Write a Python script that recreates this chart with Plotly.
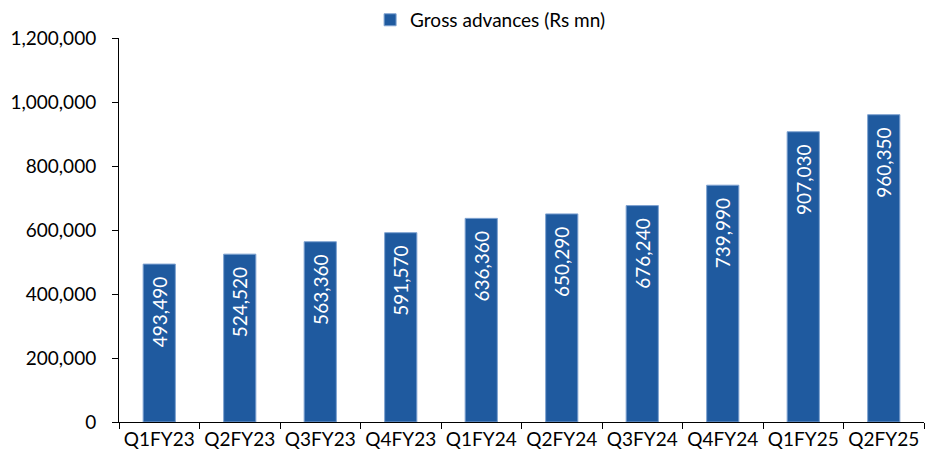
import plotly.graph_objects as go

categories = ["Q1FY23", "Q2FY23", "Q3FY23", "Q4FY23", "Q1FY24", "Q2FY24",
              "Q3FY24", "Q4FY24", "Q1FY25", "Q2FY25"]
gross_advances = [493490, 524520, 563360, 591570, 636360, 650290,
                  676240, 739990, 907030, 960350]
y_ticks = [0, 200000, 400000, 600000, 800000, 1000000, 1200000]
y_tick_labels = ["0", "200,000", "400,000", "600,000", "800,000", "1,000,000", "1,200,000"]

FONT = "Lato"
BAR = "#1F5A9F"

fig = go.Figure()
fig.add_trace(go.Bar(
    x=categories,
    y=gross_advances,
    name="Gross advances (Rs mn)",
    marker=dict(color=BAR, line=dict(color="#7FA3D1", width=1)),
    text=[f"{v:,}\u00a0\u00a0" for v in gross_advances],
    textposition="inside",
    insidetextanchor="end",
    textangle=-90,
    insidetextfont=dict(family=FONT, size=19, color="white"),
    cliponaxis=False,
))

fig.update_layout(
    width=930, height=463,
    margin=dict(l=119, r=6, t=38, b=41, autoexpand=False),
    plot_bgcolor="white", paper_bgcolor="white",
    bargap=0.6,
    font=dict(family=FONT, size=19, color="#000000"),
    showlegend=True,
    legend=dict(orientation="h", x=0.461, xanchor="center", y=0.998, yanchor="top",
                yref="container", font=dict(family=FONT, size=19),
                itemwidth=30, traceorder="normal"),
    xaxis=dict(
        showline=True, linecolor="#000000", linewidth=1,
        ticks="outside", tickson="boundaries", ticklen=6, tickcolor="#000000",
        showgrid=False, tickfont=dict(family=FONT, size=19),
    ),
    yaxis=dict(
        range=[0, 1200000], tickvals=y_ticks, ticktext=y_tick_labels,
        showline=True, linecolor="#000000", linewidth=1,
        ticks="outside", ticklen=6, tickcolor="#000000", ticklabelstandoff=12,
        showgrid=False, zeroline=False, tickfont=dict(family=FONT, size=19),
    ),
)

fig.write_html("out.html")
